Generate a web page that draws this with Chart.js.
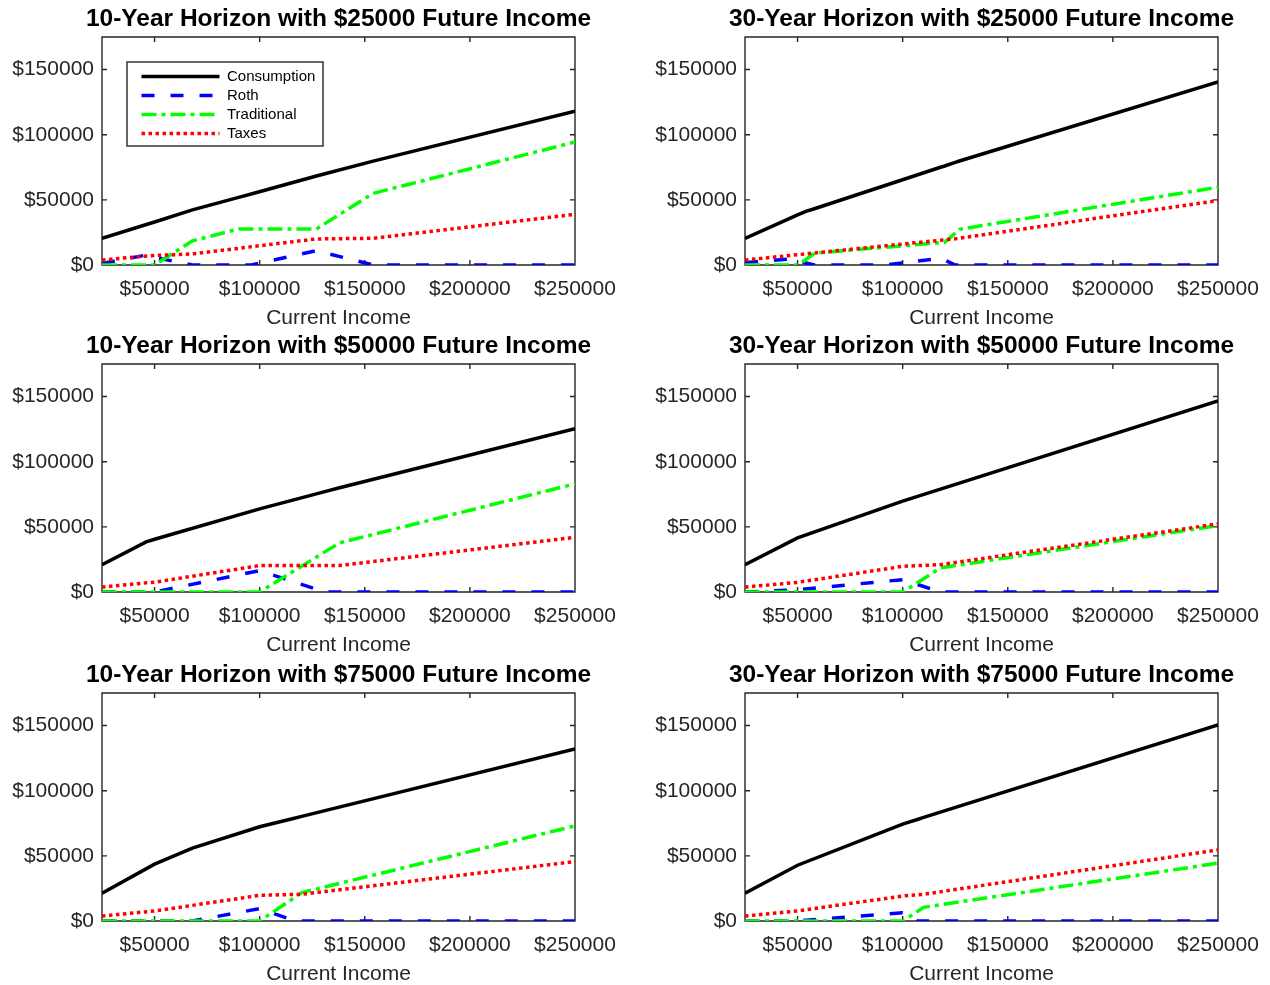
<!DOCTYPE html>
<html>
<head>
<meta charset="utf-8">
<title>Roth vs Traditional</title>
<script src="https://cdn.jsdelivr.net/npm/chart.js@4.4.1/dist/chart.umd.min.js"></script>
<style>
    html, body { margin: 0; padding: 0; background: #fff; overflow: hidden; }
    body { width: 1270px; height: 985px; position: relative; }
    canvas { position: absolute; }
</style>
</head>
<body>
<canvas id="p1" width="677" height="331" style="left:0px;top:0px;width:677px;height:331px"></canvas>
<canvas id="p2" width="677" height="331" style="left:643px;top:0px;width:677px;height:331px"></canvas>
<canvas id="p3" width="677" height="331" style="left:0px;top:327px;width:677px;height:331px"></canvas>
<canvas id="p4" width="677" height="331" style="left:643px;top:327px;width:677px;height:331px"></canvas>
<canvas id="p5" width="677" height="331" style="left:0px;top:656px;width:677px;height:331px"></canvas>
<canvas id="p6" width="677" height="331" style="left:643px;top:656px;width:677px;height:331px"></canvas>
<script>
// ========================================
// Data
// ========================================

const xTicks = [50000, 100000, 150000, 200000, 250000];
const yTicks = [0, 50000, 100000, 150000];
const seriesNames = ['Consumption', 'Roth', 'Traditional', 'Taxes'];

// 10-year horizon, $25000 future income
const income10y25k = [25000, 45000, 50000, 68000, 90000, 96000, 127000, 154000, 250000];
const consumption10y25k = [20500, 30500, 33000, 42300, 51900, 54500, 68300, 79700, 118000];
const roth10y25k = [1200, 7300, 5800, 0, 0, 0, 11000, 0, 0];
const traditional10y25k = [0, 0, 0, 18500, 27700, 27700, 27700, 55000, 94400];
const taxes10y25k = [3800, 6800, 7300, 8500, 12800, 14000, 20000, 20500, 38900];

// 30-year horizon, $25000 future income
const income30y25k = [25000, 45000, 50000, 54000, 58000, 92000, 118000, 120000, 125000, 127000, 250000];
const consumption30y25k = [20500, 34900, 38500, 41200, 43200, 61200, 75000, 76000, 78700, 79800, 140500];
const roth30y25k = [1800, 4400, 2900, 1500, 0, 0, 5100, 3800, 0, 0, 0];
const traditional30y25k = [0, 0, 0, 4200, 9000, 13700, 17100, 17400, 24500, 27400, 59700];
const taxes30y25k = [3800, 7100, 7900, 8600, 9200, 14800, 19000, 19300, 20100, 20500, 49500];

// 10-year horizon, $50000 future income
const income10y50k = [25000, 46000, 50000, 100000, 131000, 138000, 250000];
const consumption10y50k = [21000, 38500, 40500, 63800, 77000, 80000, 125400];
const roth10y50k = [0, 0, 0, 16400, 0, 0, 0];
const traditional10y50k = [0, 0, 0, 0, 30800, 37700, 83000];
const taxes10y50k = [3800, 7000, 7500, 20300, 20300, 20300, 42000];

// 30-year horizon, $50000 future income
const income30y50k = [25000, 50000, 100000, 118000, 250000];
const consumption30y50k = [21000, 41500, 69700, 78900, 146700];
const roth30y50k = [0, 1800, 9500, 0, 0];
const traditional30y50k = [0, 0, 0, 18500, 51000];
const taxes30y50k = [3800, 7400, 19700, 21000, 52300];

// 10-year horizon, $75000 future income
const income10y75k = [25000, 50000, 68000, 100000, 117000, 120000, 250000];
const consumption10y75k = [21300, 43600, 55900, 72300, 79100, 80300, 132000];
const roth10y75k = [0, 0, 0, 9500, 0, 0, 0];
const traditional10y75k = [0, 0, 0, 0, 18500, 21800, 73000];
const taxes10y75k = [3800, 7700, 12000, 19700, 20400, 20500, 45600];

// 30-year horizon, $75000 future income
const income30y75k = [25000, 50000, 100000, 103000, 107000, 110000, 250000];
const consumption30y75k = [21300, 42800, 74400, 75900, 77900, 79500, 150500];
const roth30y75k = [0, 0, 6400, 5100, 0, 0, 0];
const traditional30y75k = [0, 0, 0, 3100, 7300, 10500, 44400];
const taxes30y75k = [3800, 7700, 19200, 19600, 20100, 20500, 54600];

const panels = [
    { id: 'p1', years: 10, future: 25000, income: income10y25k, series: [consumption10y25k, roth10y25k, traditional10y25k, taxes10y25k], legend: true },
    { id: 'p2', years: 30, future: 25000, income: income30y25k, series: [consumption30y25k, roth30y25k, traditional30y25k, taxes30y25k] },
    { id: 'p3', years: 10, future: 50000, income: income10y50k, series: [consumption10y50k, roth10y50k, traditional10y50k, taxes10y50k] },
    { id: 'p4', years: 30, future: 50000, income: income30y50k, series: [consumption30y50k, roth30y50k, traditional30y50k, taxes30y50k] },
    { id: 'p5', years: 10, future: 75000, income: income10y75k, series: [consumption10y75k, roth10y75k, traditional10y75k, taxes10y75k] },
    { id: 'p6', years: 30, future: 75000, income: income30y75k, series: [consumption30y75k, roth30y75k, traditional30y75k, taxes30y75k] }
];

// MATLAB-ish line styles
const lineStyles = [
    { color: '#000000', dash: [] },
    { color: '#0000ff', dash: [13, 16] },
    { color: '#00ff00', dash: [15, 5, 4, 5] },
    { color: '#ff0000', dash: [3.5, 3.5] }
];

const FONT = '"Liberation Sans", Arial, Helvetica, sans-serif';
const AXIS_COLOR = '#262626';
Chart.defaults.font.family = FONT;
Chart.defaults.color = AXIS_COLOR;

// Box around the plot area with inward ticks on all four sides
const axesBox = {
    id: 'axesBox',
    beforeDraw(chart) {
        const { ctx, chartArea: a, scales } = chart;
        const len = 5;
        ctx.save();
        ctx.strokeStyle = AXIS_COLOR;
        ctx.lineWidth = 1.4;
        ctx.beginPath();
        ctx.rect(a.left, a.top, a.right - a.left, a.bottom - a.top);
        scales.x.ticks.forEach(t => {
            const px = scales.x.getPixelForValue(t.value);
            ctx.moveTo(px, a.bottom); ctx.lineTo(px, a.bottom - len);
            ctx.moveTo(px, a.top); ctx.lineTo(px, a.top + len);
        });
        scales.y.ticks.forEach(t => {
            const py = scales.y.getPixelForValue(t.value);
            ctx.moveTo(a.left, py); ctx.lineTo(a.left + len, py);
            ctx.moveTo(a.right, py); ctx.lineTo(a.right - len, py);
        });
        ctx.stroke();

        // frame of the legend (first panel only)
        if (chart.options.plugins.legend.display) {
            ctx.fillStyle = '#fff';
            ctx.fillRect(a.left + 25, a.top + 25, 196, 84);
            ctx.strokeRect(a.left + 25, a.top + 25, 196, 84);
        }
        ctx.restore();
    },
    afterLayout(chart) {
        // put the legend inside the axes, upper left, like MATLAB
        const lg = chart.legend;
        if (!lg || !chart.options.plugins.legend.display) return;
        const a = chart.chartArea;
        lg.left = a.left + 35.5;
        lg.top = a.top + 28;
        lg.right = lg.left + 190;
        lg.bottom = lg.top + 200;
    }
};

function buildDatasets(panel) {
    return panel.series.map((values, i) => ({
        label: seriesNames[i],
        data: values.map((v, j) => ({ x: panel.income[j], y: v })),
        borderColor: lineStyles[i].color,
        backgroundColor: lineStyles[i].color,
        borderDash: lineStyles[i].dash,
        borderWidth: 3.5,
        borderCapStyle: 'butt',
        pointRadius: 0,
        tension: 0,
        fill: false,
        order: 3 - i   // later series drawn on top
    }));
}

function createPanel(panel) {
    const canvas = document.getElementById(panel.id);
    return new Chart(canvas.getContext('2d'), {
        type: 'line',
        data: { datasets: buildDatasets(panel) },
        options: {
            responsive: false,
            animation: false,
            layout: { padding: 0 },
            plugins: {
                title: {
                    display: true,
                    text: `${panel.years}-Year Horizon with $${panel.future} Future Income`,
                    color: '#000',
                    font: { family: FONT, size: 24.5, weight: 'bold', lineHeight: 1.2 },
                    padding: { top: 4.5, bottom: 3.1 }
                },
                legend: {
                    display: !!panel.legend,
                    position: 'chartArea',
                    align: 'start',
                    labels: {
                        usePointStyle: true,
                        pointStyle: 'line',
                        pointStyleWidth: 78,
                        padding: 4,
                        color: '#000',
                        font: { family: FONT, size: 15 },
                        generateLabels: chart => chart.data.datasets.map((ds, i) => ({
                            text: ds.label,
                            strokeStyle: ds.borderColor,
                            fillStyle: ds.borderColor,
                            fontColor: '#000',
                            lineWidth: ds.borderWidth,
                            lineDash: ds.borderDash,
                            lineCap: 'butt',
                            pointStyle: 'line',
                            hidden: false,
                            datasetIndex: i
                        }))
                    }
                },
                tooltip: { enabled: false }
            },
            scales: {
                x: {
                    type: 'linear',
                    min: 25000,
                    max: 250000,
                    grid: { display: false, drawTicks: false },
                    border: { display: false },
                    afterBuildTicks: s => { s.ticks = xTicks.map(v => ({ value: v })); },
                    ticks: {
                        autoSkip: false,
                        maxRotation: 0,
                        padding: 12,
                        color: AXIS_COLOR,
                        font: { family: FONT, size: 21 },
                        callback: v => '$' + v
                    },
                    title: {
                        display: true,
                        text: 'Current Income',
                        color: AXIS_COLOR,
                        font: { family: FONT, size: 21 },
                        padding: 0
                    },
                    // right margin mirrors the y-axis width so the title centres over the axes
                    afterFit: s => { s.height = 66; s.paddingLeft = 0; s.paddingRight = 102; }
                },
                y: {
                    type: 'linear',
                    min: 0,
                    max: 175000,
                    grid: { display: false, drawTicks: false },
                    border: { display: false },
                    afterBuildTicks: s => { s.ticks = yTicks.map(v => ({ value: v })); },
                    ticks: {
                        padding: 8,
                        color: AXIS_COLOR,
                        font: { family: FONT, size: 21 },
                        callback: v => '$' + v
                    },
                    afterFit: s => { s.width = 102; s.paddingTop = 0; s.paddingBottom = 0; }
                }
            }
        },
        plugins: [axesBox]
    });
}

panels.forEach(createPanel);
</script>
</body>
</html>
